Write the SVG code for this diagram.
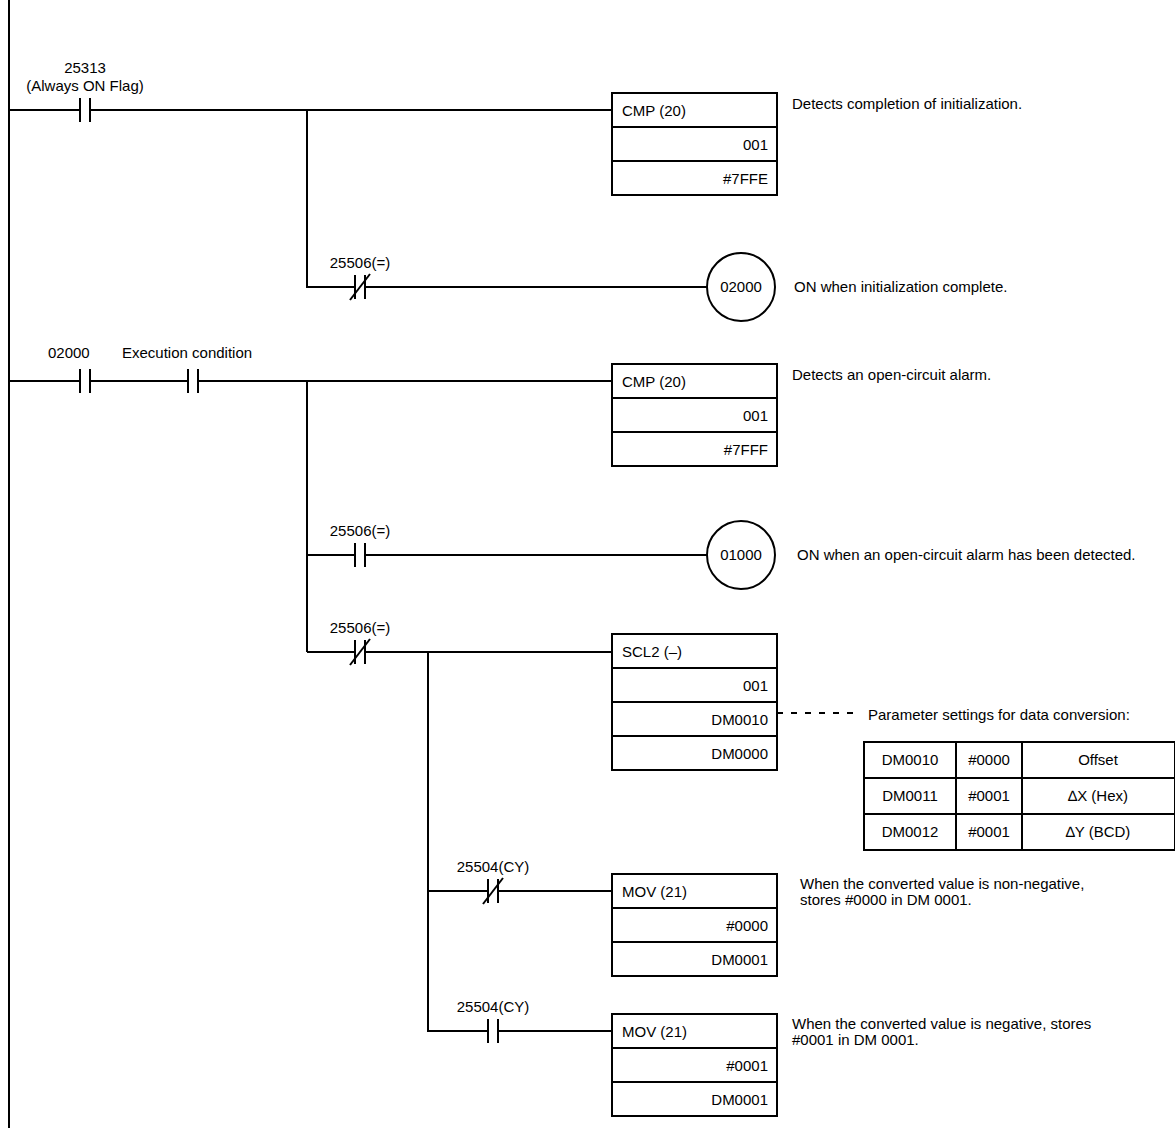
<svg xmlns="http://www.w3.org/2000/svg" width="1175" height="1128" viewBox="0 0 1175 1128">
<style>
.w{stroke:#000;stroke-width:2;fill:none}
.b{stroke:#000;stroke-width:2;fill:#fff}
text{font-family:"Liberation Sans",Arial,sans-serif;font-size:15px;fill:#000}
.r{text-anchor:end}.m{text-anchor:middle}
</style>
<defs>
<g id="no"><line class="w" x1="-5" y1="-12" x2="-5" y2="12"/><line class="w" x1="5" y1="-12" x2="5" y2="12"/></g>
<g id="nc"><use href="#no"/><line class="w" x1="-10" y1="13" x2="10" y2="-13"/></g>
</defs>
<g id="connectors">
<line class="w" x1="9" y1="0" x2="9" y2="1128"/>
<path class="w" d="M9 110H80M90 110H612M307 110V287H355M365 287H707"/>
<path class="w" d="M9 381H80M90 381H188M198 381H612M307 381V652M307 555H355M365 555H707M307 652H355M365 652H612M428 652V1031H488M498 1031H612M428 891H488M498 891H612"/>
<line class="w" x1="777" y1="713" x2="855" y2="713" stroke-dasharray="6,8"/>
</g>
<g id="c25313"><text class="m" x="85" y="73">25313</text><text class="m" x="85" y="91">(Always ON Flag)</text><use href="#no" x="85" y="110"/></g>
<g id="cmp1"><rect class="b" x="612" y="93" width="165" height="102"/><path class="w" d="M612 127H777M612 161H777"/><text x="622" y="116">CMP (20)</text><text class="r" x="768" y="150">001</text><text class="r" x="768" y="184">#7FFE</text><text x="792" y="109">Detects completion of initialization.</text></g>
<g id="c25506a"><text class="m" x="360" y="268">25506(=)</text><use href="#nc" x="360" y="287"/></g>
<g id="coil02000"><circle class="b" cx="741" cy="287" r="34"/><text class="m" x="741" y="292">02000</text><text x="794" y="292">ON when initialization complete.</text></g>
<g id="c02000"><text x="48" y="358">02000</text><use href="#no" x="85" y="381"/></g>
<g id="cexec"><text x="122" y="358">Execution condition</text><use href="#no" x="193" y="381"/></g>
<g id="cmp2"><rect class="b" x="612" y="364" width="165" height="102"/><path class="w" d="M612 398H777M612 432H777"/><text x="622" y="387">CMP (20)</text><text class="r" x="768" y="421">001</text><text class="r" x="768" y="455">#7FFF</text><text x="792" y="380">Detects an open-circuit alarm.</text></g>
<g id="c25506b"><text class="m" x="360" y="536">25506(=)</text><use href="#no" x="360" y="555"/></g>
<g id="coil01000"><circle class="b" cx="741" cy="555" r="34"/><text class="m" x="741" y="560">01000</text><text x="797" y="560">ON when an open-circuit alarm has been detected.</text></g>
<g id="c25506c"><text class="m" x="360" y="633">25506(=)</text><use href="#nc" x="360" y="652"/></g>
<g id="scl2"><rect class="b" x="612" y="634" width="165" height="136"/><path class="w" d="M612 668H777M612 702H777M612 736H777"/><text x="622" y="657">SCL2 (–)</text><text class="r" x="768" y="691">001</text><text class="r" x="768" y="725">DM0010</text><text class="r" x="768" y="759">DM0000</text></g>
<g id="param"><text x="868" y="720">Parameter settings for data conversion:</text>
<rect class="w" x="864" y="742" width="311" height="108" stroke-width="1"/><path class="w" stroke-width="1" d="M864 778H1175M864 814H1175M956 742V850M1022 742V850"/>
<text class="m" x="910" y="765">DM0010</text><text class="m" x="989" y="765">#0000</text><text class="m" x="1098" y="765">Offset</text>
<text class="m" x="910" y="801">DM0011</text><text class="m" x="989" y="801">#0001</text><text class="m" x="1098" y="801">∆X (Hex)</text>
<text class="m" x="910" y="837">DM0012</text><text class="m" x="989" y="837">#0001</text><text class="m" x="1098" y="837">∆Y (BCD)</text></g>
<g id="c25504a"><text class="m" x="493" y="872">25504(CY)</text><use href="#nc" x="493" y="891"/></g>
<g id="mov1"><rect class="b" x="612" y="874" width="165" height="102"/><path class="w" d="M612 908H777M612 942H777"/><text x="622" y="897">MOV (21)</text><text class="r" x="768" y="931">#0000</text><text class="r" x="768" y="965">DM0001</text><text x="800" y="889">When the converted value is non-negative,</text><text x="800" y="905">stores #0000 in DM 0001.</text></g>
<g id="c25504b"><text class="m" x="493" y="1012">25504(CY)</text><use href="#no" x="493" y="1031"/></g>
<g id="mov2"><rect class="b" x="612" y="1014" width="165" height="102"/><path class="w" d="M612 1048H777M612 1082H777"/><text x="622" y="1037">MOV (21)</text><text class="r" x="768" y="1071">#0001</text><text class="r" x="768" y="1105">DM0001</text><text x="792" y="1029">When the converted value is negative, stores</text><text x="792" y="1045">#0001 in DM 0001.</text></g>
</svg>
